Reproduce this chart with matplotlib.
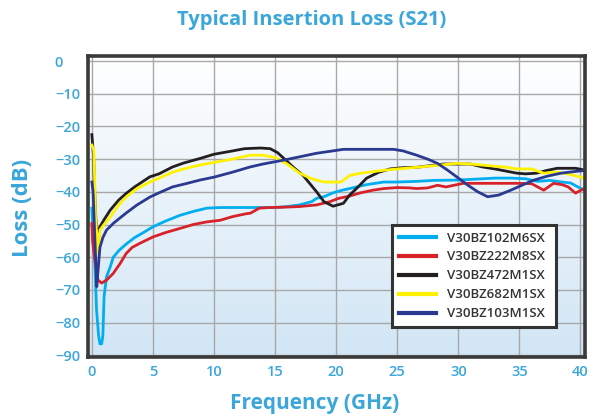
import matplotlib
matplotlib.use("Agg")
import matplotlib.pyplot as plt
import numpy as np

# ---- data ----
names = ["V30BZ102M6SX", "V30BZ222M8SX", "V30BZ472M1SX", "V30BZ682M1SX", "V30BZ103M1SX"]
colors = ["#00aeef", "#d7222a", "#231f20", "#fff200", "#2b3990"]

x_102 = [0, 0.1, 0.25, 0.38, 0.55, 0.66, 0.8, 0.9, 1.0, 1.2, 1.5, 1.75, 2.2, 2.8, 3.5, 4.2, 5, 6, 7.2, 8.3, 9.4, 10.5, 12, 13, 14, 15, 16, 17, 18, 18.4, 19, 19.75, 20.5, 21.1, 22, 22.5, 23.9, 25, 26.6, 28, 29.9, 31, 32, 33, 34.3, 35.5, 36.5, 37.5, 38.5, 39.2, 39.8, 40.3]
y_102 = [-45, -53, -62, -76, -84, -86.5, -86.5, -84, -72, -66, -63, -60, -58, -56, -54, -52.5, -50.7, -49, -47.2, -46, -45, -44.8, -44.8, -44.8, -44.8, -44.8, -44.5, -44, -43, -42, -41.5, -40.3, -39.5, -39, -38.2, -37.8, -37, -37, -36.8, -36.5, -36.4, -36.2, -36, -35.8, -35.8, -36, -36.8, -36.5, -37, -37.3, -38.5, -39.5]

x_222 = [0, 0.05, 0.25, 0.5, 0.8, 1.2, 1.74, 2.3, 2.8, 3.3, 3.9, 5, 6, 7.2, 8.3, 9.4, 10.5, 11.5, 12.5, 13, 13.7, 14.5, 15.7, 17, 18.4, 19.5, 20.2, 21.1, 22, 23, 23.9, 25, 26, 26.6, 27.5, 28.3, 29, 30.4, 32, 33, 34.8, 36, 37, 37.8, 38.5, 39, 39.6, 40.3]
y_222 = [-49.7, -54.8, -61, -67, -67.9, -67, -65, -62, -58.9, -57, -55.8, -53.8, -52.5, -51.2, -50, -49.2, -48.7, -47.6, -46.8, -46.5, -45, -44.8, -44.7, -44.5, -44, -43, -42, -41.3, -40.3, -39.5, -39, -38.7, -38.8, -39, -38.8, -38, -38.5, -37.4, -37.4, -37.4, -37.4, -37.5, -39.5, -37.4, -37.8, -38.5, -40.4, -39]

x_472 = [0, 0.05, 0.15, 0.25, 0.38, 0.66, 1.0, 1.5, 2.2, 2.8, 3.5, 4.75, 5.5, 6.6, 7.5, 8.85, 10, 11.5, 12.5, 13.8, 14.6, 15.2, 15.7, 16.5, 17.3, 18.4, 19, 19.75, 20.6, 21.1, 21.8, 22.5, 23.5, 24.4, 25.5, 26.6, 28.8, 30, 31, 32, 33, 34.8, 35.5, 36.4, 37.2, 38.1, 39.6, 40.3]
y_472 = [-22.5, -25, -30, -42, -52.7, -50.7, -48.5, -45.6, -42.5, -40.5, -38.5, -35.4, -34.5, -32.4, -31.2, -29.8, -28.5, -27.5, -26.8, -26.6, -26.8, -28, -29.7, -32.5, -35, -40, -43, -44.4, -43.5, -41, -38.5, -35.8, -34, -33, -32.6, -32.5, -31.5, -31.5, -31.5, -32.4, -33, -34.3, -34.5, -34.3, -33.5, -32.8, -32.8, -33.3]

x_682 = [0, 0.15, 0.22, 0.3, 0.5, 0.66, 1.0, 1.5, 2.2, 2.8, 3.7, 4.75, 5.5, 6.6, 7.5, 8.85, 10, 11.5, 12.95, 14, 15, 16, 17, 18, 19, 20.4, 21.1, 22, 23.9, 25, 26.6, 28, 29.9, 31, 32.5, 34, 34.8, 36, 37, 38, 39, 40.3]
y_682 = [-25.7, -27.2, -35, -47.7, -58.5, -51.7, -50, -47.7, -44, -41.6, -39, -37, -35.8, -34, -33, -31.8, -31, -30, -28.8, -28.8, -29.5, -31.5, -34.3, -36, -37, -37, -35, -34.3, -33.4, -33, -32.5, -32, -31.3, -31.5, -32, -32.5, -33, -33, -34.3, -34, -34.5, -35.8]

x_103 = [0, 0.1, 0.25, 0.4, 0.55, 0.66, 0.9, 1.2, 1.8, 2.8, 3.7, 4.75, 5.5, 6.6, 7.7, 8.85, 10, 11.5, 12.95, 14, 15.7, 17, 18.4, 20.6, 22, 24.7, 25.5, 26.6, 27.5, 28.3, 29.1, 29.9, 30.8, 31.6, 32.4, 33.3, 34.3, 35.2, 36.2, 37.3, 38.4, 39.5, 40.3]
y_103 = [-37, -40, -54.8, -69, -62, -57, -54, -51.7, -49.5, -46.5, -44, -41.6, -40.3, -38.5, -37.5, -36.4, -35.5, -34, -32.4, -31.5, -30.3, -29.3, -28.2, -27, -27, -27, -27.5, -28.8, -30, -31.3, -33.3, -35.5, -38, -40, -41.5, -41, -39.5, -38, -36.4, -35.2, -34.3, -33.8, -33.5]

xs = [x_102, x_222, x_472, x_682, x_103]
ys = [y_102, y_222, y_472, y_682, y_103]

x_ticks = [0, 5, 10, 15, 20, 25, 30, 35, 40]
y_ticks = [0, -10, -20, -30, -40, -50, -60, -70, -80, -90]

title = "Typical Insertion Loss (S21)"
xlabel = "Frequency (GHz)"
ylabel = "Loss (dB)"

# ---- styling ----
plt.rcParams['font.family'] = ['Open Sans', 'DejaVu Sans']
txt_color = "#3aa6da"
spine_color = "#3a3a3a"

fig = plt.figure(figsize=(5.96, 4.16), dpi=100)
ax = fig.add_axes([0.148, 0.142, 0.834, 0.723])

xlim = (-0.3, 40.4)
ylim = (-90.5, 1.5)
ax.set_xlim(*xlim)
ax.set_ylim(*ylim)

# gradient background
grad = np.linspace(0, 1, 256).reshape(-1, 1)
top = np.array([1.0, 1.0, 1.0])
bot = np.array([0.82, 0.90, 0.96])
img = top[None, None, :] * (1 - grad[:, :, None]) + bot[None, None, :] * grad[:, :, None]
ax.imshow(img, extent=[xlim[0], xlim[1], ylim[0], ylim[1]], aspect='auto', zorder=0, origin='upper')

ax.set_xticks(x_ticks)
ax.set_yticks(y_ticks)
ax.grid(True, color="#a8a8a8", linewidth=1.0, zorder=1)
ax.set_axisbelow(True)

for xx, yy, c, n in zip(xs, ys, colors, names):
    ax.plot(xx, yy, color=c, linewidth=2.0, label=n, zorder=3, solid_joinstyle='round')

for s in ax.spines.values():
    s.set_color(spine_color)
    s.set_linewidth(2.6)
    s.set_zorder(5)

ax.tick_params(axis='both', length=0, labelcolor=txt_color, labelsize=10.5)
ax.tick_params(axis='y', pad=24)
ax.tick_params(axis='x', pad=6)
for lab in ax.get_yticklabels():
    lab.set_ha('left')
    lab.set_fontweight('semibold')
for lab in ax.get_xticklabels():
    lab.set_fontweight('semibold')

fig.text(0.523, 0.952, title, ha='center', va='center', color=txt_color, fontsize=14.5, fontweight='bold')
fig.text(0.528, 0.03, xlabel, ha='center', va='center', color=txt_color, fontsize=15, fontweight='bold')
fig.text(0.037, 0.5, ylabel, ha='center', va='center', rotation=90, color=txt_color, fontsize=16, fontweight='bold')

leg = ax.legend(loc='lower left', bbox_to_anchor=(0.612, 0.1, 0.33, 0.342), mode='expand',
                frameon=True, fancybox=False, fontsize=9.5, handlelength=2.8,
                borderpad=0.5, labelspacing=0.45, handletextpad=0.8, borderaxespad=0)
leg.get_frame().set_edgecolor("#333333")
leg.get_frame().set_linewidth(2.2)
leg.get_frame().set_facecolor("white")
leg.get_frame().set_alpha(1)
for t in leg.get_texts():
    t.set_color("#333333")
    t.set_fontweight('semibold')
for l in leg.get_lines():
    l.set_linewidth(3)
leg.set_zorder(6)

fig.savefig("out.png", dpi=100)
